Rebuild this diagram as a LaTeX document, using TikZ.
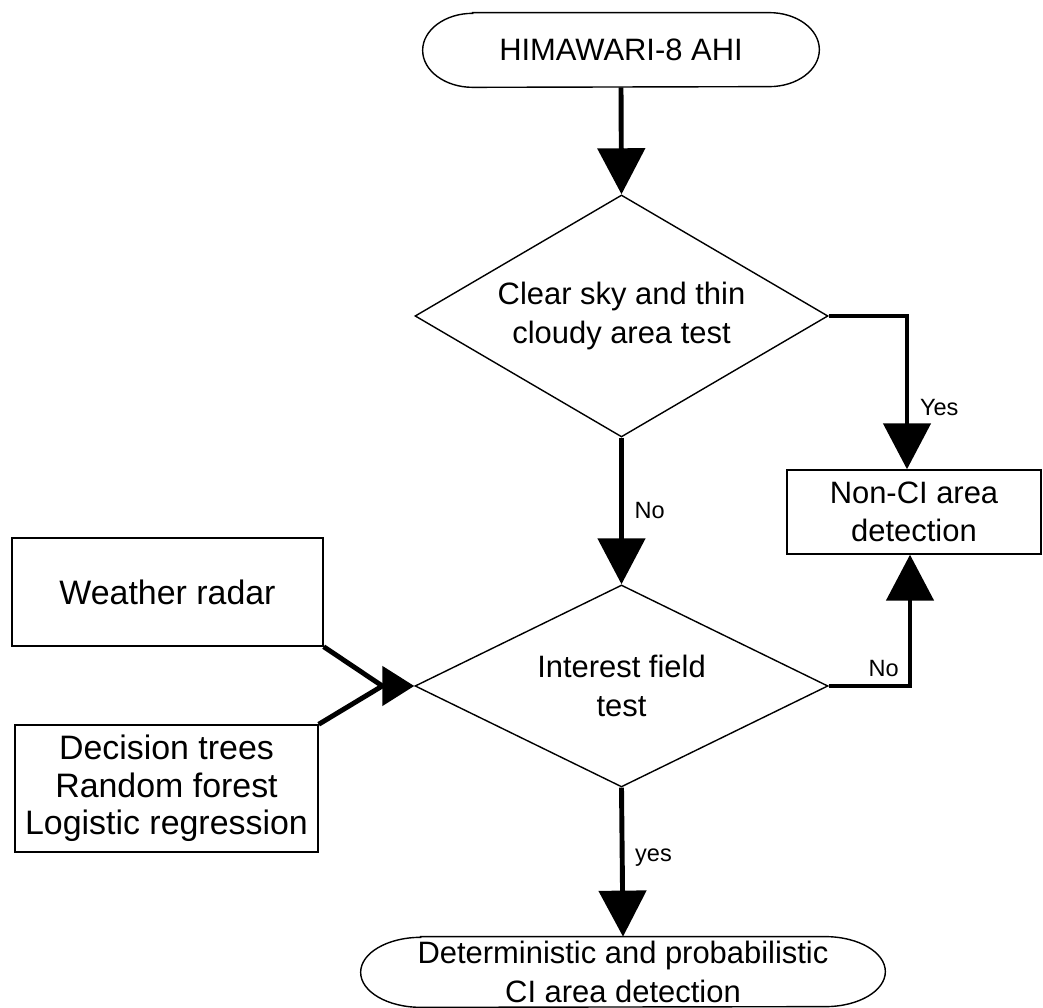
\documentclass[tikz,border=0pt]{standalone}
\usepackage{fontspec}
\setmainfont{Liberation Sans}
\usetikzlibrary{shapes.geometric,arrows.meta}

\newcommand{\chartfont}{\fontsize{17.6}{22}\selectfont}
\newcommand{\sidefont}{\fontsize{19.3}{21.3}\selectfont}
\newcommand{\tagfont}{\fontsize{13.4}{15}\selectfont}

\tikzset{
	terminal/.style={rectangle, inner sep=0pt, align=center, font=\chartfont},
	capsule/.style={line width=0.8pt},
	decision/.style={draw, line width=0.8pt, diamond, inner sep=0pt, align=center, font=\chartfont},
	process/.style={draw, line width=0.8pt, rectangle, inner sep=0pt, align=center},
	flow/.style={line width=2.8pt, -{Triangle[length=0.92cm, width=0.94cm]}},
	tag/.style={font=\tagfont, inner sep=2pt}
}

\begin{document}
\begin{tikzpicture}
	
	\useasboundingbox (0,0) rectangle (20.86,20.16);
	
	\node[terminal, minimum width=7.92cm, minimum height=1.48cm] (ahi) at (12.42,19.16) {HIMAWARI-8 AHI};
	\draw[capsule] ([xshift=1cm]ahi.north west) -- ([xshift=-1cm]ahi.north east)
		arc[start angle=90, end angle=-90, x radius=1cm, y radius=0.74cm]
		-- ([xshift=1cm]ahi.south west)
		arc[start angle=270, end angle=90, x radius=1cm, y radius=0.74cm] -- cycle;
	
	\node[decision, aspect=1.71, minimum width=8.26cm, minimum height=4.84cm] (clear) at (12.43,13.84) {Clear sky and thin\\cloudy area test};
	\node[decision, aspect=2.04, minimum width=8.26cm, minimum height=4.04cm] (interest) at (12.43,6.44) {Interest field\\test};
	
	\node[process, font=\chartfont, minimum width=5.08cm, minimum height=1.68cm] (nonci) at (18.28,9.92) {Non-CI area\\detection};
	\node[process, font=\sidefont, minimum width=6.22cm, minimum height=2.16cm] (radar) at (3.35,8.32) {Weather radar};
	\node[process, font=\sidefont, minimum width=6.06cm, minimum height=2.54cm] (models) at (3.33,4.39) {Decision trees\\Random forest\\Logistic regression};
	
	\node[terminal, minimum width=10.48cm, minimum height=1.4cm] (ci) at (12.46,0.72) {Deterministic and probabilistic\\CI area detection};
	\draw[capsule] ([xshift=1.2cm]ci.north west) -- ([xshift=-1.2cm]ci.north east)
		arc[start angle=90, end angle=-90, x radius=1.2cm, y radius=0.7cm]
		-- ([xshift=1.2cm]ci.south west)
		arc[start angle=270, end angle=90, x radius=1.2cm, y radius=0.7cm] -- cycle;
	
	\draw[flow] (ahi.south) -- (clear.north);
	\draw[flow] (clear.east) -| node[tag, pos=0.8, right=4pt] {Yes} ([xshift=-0.14cm]nonci.north);
	\draw[flow] (clear.south) -- node[tag, pos=0.5, right=4pt] {No} (interest.north);
	\draw[flow] (interest.east) -| node[tag, pos=0.5, anchor=south east, xshift=-3pt, yshift=2pt] {No} ([xshift=-0.08cm]nonci.south);
	\draw[flow] (interest.south) -- node[tag, pos=0.47, right=4pt] {yes} (ci.north);
	
	\coordinate (merge) at ([xshift=-0.64cm]interest.west);
	\draw[line width=2.8pt] (radar.south east) -- (merge);
	\draw[line width=2.8pt] (models.north east) -- (merge);
	\draw[line width=2.8pt, -{Triangle[length=0.64cm, width=0.78cm]}] (merge) -- (interest.west);
	
\end{tikzpicture}
\end{document}
